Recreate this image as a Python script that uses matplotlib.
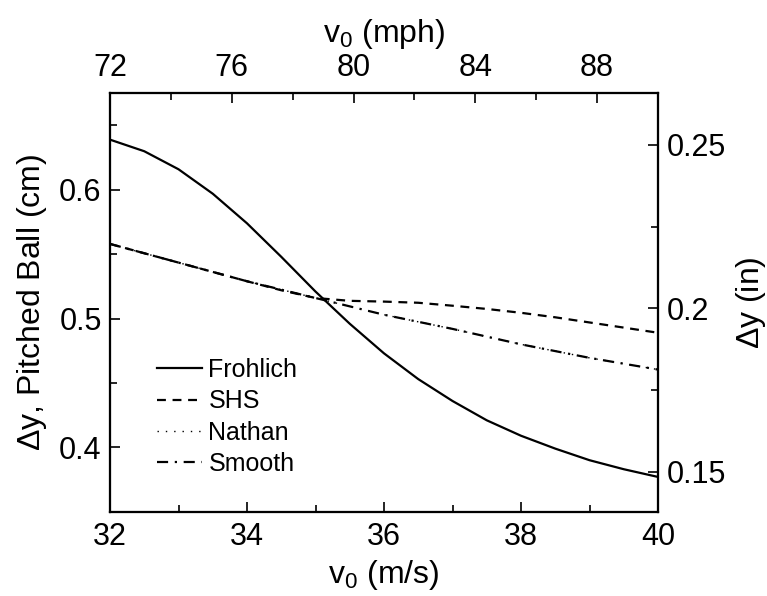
import matplotlib
matplotlib.use("Agg")
import matplotlib.pyplot as plt

plt.rcParams['font.family'] = ['Liberation Sans', 'DejaVu Sans']
plt.rcParams['mathtext.default'] = 'regular'

# data (v0 in m/s, dy in cm)
v_frohlich = [32, 32.5, 33, 33.5, 34, 34.5, 35, 35.5, 36, 36.5, 37, 37.5, 38, 38.5, 39, 39.5, 40]
dy_frohlich = [0.639, 0.630, 0.616, 0.597, 0.574, 0.548, 0.521, 0.496, 0.473, 0.453, 0.436,
               0.421, 0.409, 0.399, 0.390, 0.383, 0.377]

v_shs = [32, 33, 34, 34.5, 35, 35.5, 36, 36.5, 37, 37.5, 38, 38.5, 39, 39.5, 40]
dy_shs = [0.558, 0.5435, 0.529, 0.522, 0.516, 0.5138, 0.5132, 0.5123, 0.510, 0.5075, 0.5045,
          0.501, 0.497, 0.493, 0.489]

v_nathan = [32, 33, 34, 35, 36, 37, 38, 39, 40]
dy_nathan = [0.558, 0.5435, 0.529, 0.516, 0.503, 0.492, 0.480, 0.4695, 0.4604]

v_smooth = [32, 33, 34, 35, 36, 37, 38, 39, 40]
dy_smooth = [0.558, 0.5435, 0.529, 0.516, 0.503, 0.492, 0.480, 0.4695, 0.4604]

labels = ["Frohlich", "SHS", "Nathan", "Smooth"]

x_ticks = [32, 34, 36, 38, 40]
y_ticks = [0.4, 0.5, 0.6]
mph_ticks = [72, 76, 80, 84, 88]
in_ticks = [0.15, 0.2, 0.25]

CM_PER_IN = 2.54
xlim = (32, 40)
ylim = (0.35, 0.675)
mph_lim = (72, 90)

W, H = 767, 596
fig = plt.figure(figsize=(W / 100, H / 100), dpi=100)
ax = fig.add_axes([110 / W, 84.3 / H, 548 / W, 418.4 / H])

lw = 1.6
ax.plot(v_frohlich, dy_frohlich, color='black', lw=lw, ls='-', label=labels[0])
ax.plot(v_shs, dy_shs, color='black', lw=lw, ls=(0, (4, 3)), label=labels[1])
ax.plot(v_nathan, dy_nathan, color='black', lw=1.0, ls=(0, (1, 5)), label=labels[2])
ax.plot(v_smooth, dy_smooth, color='black', lw=lw, ls=(0, (5, 3, 1, 3)), label=labels[3])

ax.set_xlim(*xlim)
ax.set_ylim(*ylim)
ax.set_xticks(x_ticks)
ax.set_xticks([33, 35, 37, 39], minor=True)
ax.set_yticks(y_ticks)
ax.set_yticks([0.45, 0.55, 0.65], minor=True)
ax.set_yticklabels([f"{t:g}" for t in y_ticks])

axt = ax.twiny()
axt.set_xlim(*mph_lim)
axt.set_xticks(mph_ticks)
axt.set_xticks([74, 78, 82, 86], minor=True)

axr = ax.twinx()
axr.set_ylim(ylim[0] / CM_PER_IN, ylim[1] / CM_PER_IN)
axr.set_yticks(in_ticks)
axr.set_yticks([0.175, 0.225], minor=True)
axr.set_yticklabels([f"{t:g}" for t in in_ticks])

fs_tick = 22
fs_lab = 23
for a in (ax, axt, axr):
    a.tick_params(which='both', direction='in', width=1.2, labelsize=fs_tick)
    a.tick_params(which='major', length=7)
    a.tick_params(which='minor', length=5)
    for s in a.spines.values():
        s.set_linewidth(1.5)
ax.tick_params(top=False, right=False)
ax.tick_params(axis='x', pad=7.5)
ax.tick_params(axis='y', pad=6)
axt.tick_params(pad=7.5)
axr.tick_params(pad=6)

ax.set_xlabel(r"v$_0$ (m/s)", fontsize=fs_lab, labelpad=4)
ax.set_ylabel(r"$\Delta$y, Pitched Ball (cm)", fontsize=fs_lab, labelpad=7)
axt.set_xlabel(r"v$_0$ (mph)", fontsize=fs_lab, labelpad=8)
axr.set_ylabel(r"$\Delta$y (in)", fontsize=fs_lab, labelpad=6)

leg = ax.legend(loc='upper left', bbox_to_anchor=(0.086, 0.367), frameon=False,
                fontsize=18, handlelength=1.8, handletextpad=0.25, labelspacing=0.29,
                borderpad=0, borderaxespad=0)

fig.savefig("out.png", dpi=100)
